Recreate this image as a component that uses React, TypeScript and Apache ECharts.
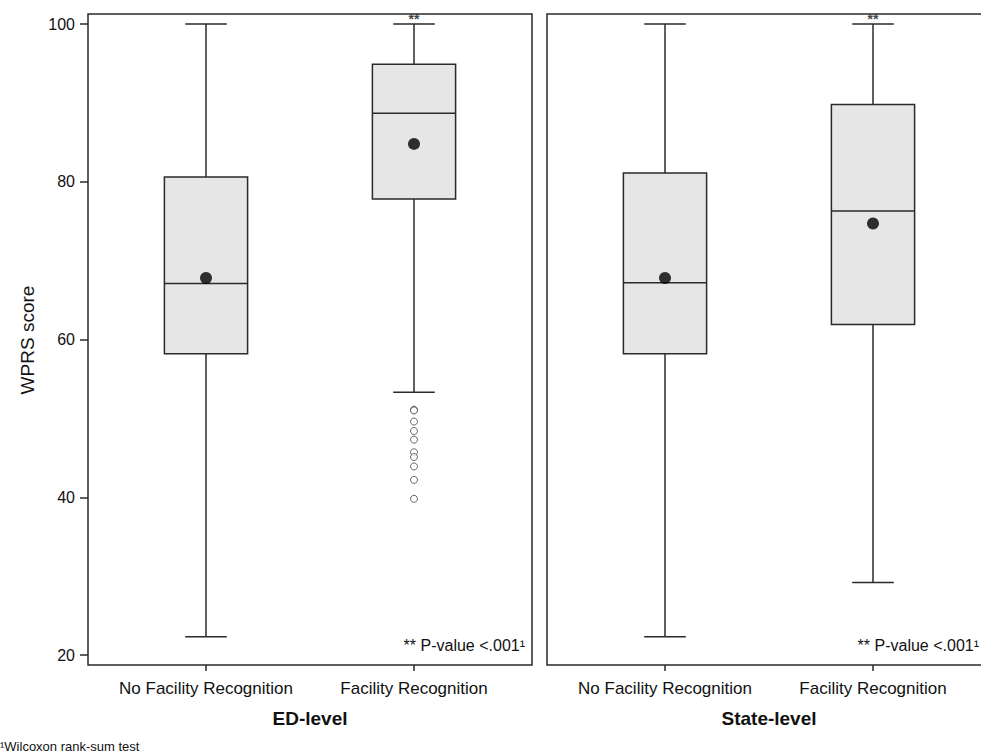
import React, { useEffect, useRef } from "react";
import * as echarts from "echarts";

const categories = ["No Facility Recognition", "Facility Recognition"];
// [lower whisker, Q1, median, Q3, upper whisker]
const edBoxes = [
  [22.3, 58.2, 67.1, 80.6, 100],
  [53.3, 77.8, 88.7, 94.9, 100],
];
const edMeans = [67.8, 84.8];
const edOutliers = [51.1, 51.0, 49.6, 48.4, 47.3, 45.7, 45.1, 43.9, 42.2, 39.8];
const stateBoxes = [
  [22.3, 58.2, 67.2, 81.1, 100],
  [29.2, 61.9, 76.3, 89.8, 100],
];
const stateMeans = [67.8, 74.7];
const yTicks = [20, 40, 60, 80, 100];
const panelTitles = ["ED-level", "State-level"];

const FONT = "'Liberation Sans', Arial, Helvetica, sans-serif";
const INK = "#2a2a2a";

function boxRender(params: any, api: any) {
  const idx = api.value(0);
  const lo = api.coord([idx, api.value(1)]);
  const q1 = api.coord([idx, api.value(2)]);
  const med = api.coord([idx, api.value(3)]);
  const q3 = api.coord([idx, api.value(4)]);
  const hi = api.coord([idx, api.value(5)]);
  const band = api.size([1, 0])[0];
  const bw = band * 0.4;
  const cw = band * 0.2;
  const cx = q1[0];
  const ls = { stroke: INK, lineWidth: 1.5, fill: "none" };
  return {
    type: "group",
    children: [
      { type: "line", shape: { x1: cx, y1: hi[1], x2: cx, y2: q3[1] }, style: ls },
      { type: "line", shape: { x1: cx, y1: q1[1], x2: cx, y2: lo[1] }, style: ls },
      { type: "line", shape: { x1: cx - cw / 2, y1: hi[1], x2: cx + cw / 2, y2: hi[1] }, style: ls },
      { type: "line", shape: { x1: cx - cw / 2, y1: lo[1], x2: cx + cw / 2, y2: lo[1] }, style: ls },
      {
        type: "rect",
        shape: { x: cx - bw / 2, y: q3[1], width: bw, height: q1[1] - q3[1] },
        style: { fill: "#e6e6e6", stroke: INK, lineWidth: 1.5 },
      },
      { type: "line", shape: { x1: cx - bw / 2, y1: med[1], x2: cx + bw / 2, y2: med[1] }, style: ls },
    ],
  };
}

export default function App() {
  const ref = useRef<HTMLDivElement>(null);
  useEffect(() => {
    if (!ref.current) return;
    const chart = echarts.init(ref.current, undefined, { renderer: "svg" });
    const grids = [
      { left: 102, width: 416, top: 24, bottom: 101 },
      { left: 561, width: 416, top: 24, bottom: 101 },
    ];
    const xAxes = [0, 1].map((i) => ({
      type: "category",
      gridIndex: i,
      data: categories,
      offset: 10,
      axisLine: { show: false },
      axisTick: {
        show: true,
        interval: 0,
        alignWithLabel: true,
        length: 6,
        lineStyle: { color: INK, width: 1.5 },
      },
      axisLabel: { color: "#111", fontSize: 17, fontFamily: FONT, margin: 15, interval: 0 },
      splitLine: { show: false },
    }));
    const yAxes = [0, 1].map((i) => ({
      type: "value",
      gridIndex: i,
      min: 20,
      max: 100,
      interval: 20,
      show: i === 0,
      offset: 14,
      axisLine: { show: false },
      axisTick: { show: true, length: 8, lineStyle: { color: INK, width: 1.5 } },
      axisLabel: {
        color: "#111",
        fontSize: 16,
        fontFamily: FONT,
        margin: 13,
        formatter: (v: number) => (yTicks.includes(v) ? String(v) : ""),
      },
      splitLine: { show: false },
    }));
    const boxData = (boxes: number[][]) => boxes.map((b, i) => [i, ...b]);
    const meanData = (means: number[]) => means.map((m, i) => [i, m]);
    const starLabel = {
      show: true,
      position: "top",
      distance: 0,
      offset: [0, 2],
      formatter: (p: any) => (p.dataIndex === 1 ? "**" : ""),
      fontSize: 14,
      fontWeight: "bold",
      color: "#111",
      fontFamily: FONT,
    };
    const series: any[] = [];
    [edBoxes, stateBoxes].forEach((boxes, i) => {
      series.push({
        type: "custom",
        xAxisIndex: i,
        yAxisIndex: i,
        renderItem: boxRender,
        encode: { x: 0, y: [1, 2, 3, 4, 5] },
        data: boxData(boxes),
        clip: false,
        z: 2,
      });
      series.push({
        type: "scatter",
        xAxisIndex: i,
        yAxisIndex: i,
        symbolSize: 0,
        data: boxes.map((b, j) => [j, b[4]]),
        label: starLabel,
        z: 3,
      });
    });
    [edMeans, stateMeans].forEach((means, i) => {
      series.push({
        type: "scatter",
        xAxisIndex: i,
        yAxisIndex: i,
        symbol: "circle",
        symbolSize: 12,
        itemStyle: { color: "#000" },
        data: meanData(means),
        z: 4,
      });
    });
    series.push({
      type: "scatter",
      xAxisIndex: 0,
      yAxisIndex: 0,
      symbol: "circle",
      symbolSize: 7,
      itemStyle: { color: "#fff", borderColor: "#444", borderWidth: 1 },
      data: edOutliers.map((v) => [1, v]),
      z: 4,
    });

    const frames = [88, 547].map((x) => ({
      type: "rect",
      shape: { x, y: 14, width: 444, height: 651 },
      style: { fill: "none", stroke: INK, lineWidth: 1.5 },
      z: 10,
    }));
    const pTexts = [525, 979].map((x) => ({
      type: "text",
      x,
      y: 645,
      style: {
        text: "** P-value <.001¹",
        align: "right",
        verticalAlign: "middle",
        fontSize: 16,
        fontFamily: FONT,
        fill: "#111",
      },
      z: 11,
    }));
    const titles = [310, 769].map((x, i) => ({
      type: "text",
      x,
      y: 718,
      style: {
        text: panelTitles[i],
        align: "center",
        verticalAlign: "middle",
        fontSize: 19,
        fontWeight: "bold",
        fontFamily: FONT,
        fill: "#111",
      },
    }));

    chart.setOption({
      animation: false,
      backgroundColor: "#fff",
      grid: grids,
      xAxis: xAxes,
      yAxis: yAxes,
      series,
      graphic: [
        ...frames,
        ...pTexts,
        ...titles,
        {
          type: "text",
          x: 27,
          y: 340,
          rotation: Math.PI / 2,
          style: {
            text: "WPRS score",
            align: "center",
            verticalAlign: "middle",
            fontSize: 19,
            fontFamily: FONT,
            fill: "#111",
          },
        },
        {
          type: "text",
          x: 0,
          y: 746,
          style: {
            text: "¹Wilcoxon rank-sum test",
            align: "left",
            verticalAlign: "middle",
            fontSize: 13,
            fontFamily: FONT,
            fill: "#111",
          },
        },
      ],
    });
    return () => chart.dispose();
  }, []);
  return (
    <div
      ref={ref}
      style={{ position: "absolute", left: 0, top: 0, width: 981, height: 756 }}
    />
  );
}
